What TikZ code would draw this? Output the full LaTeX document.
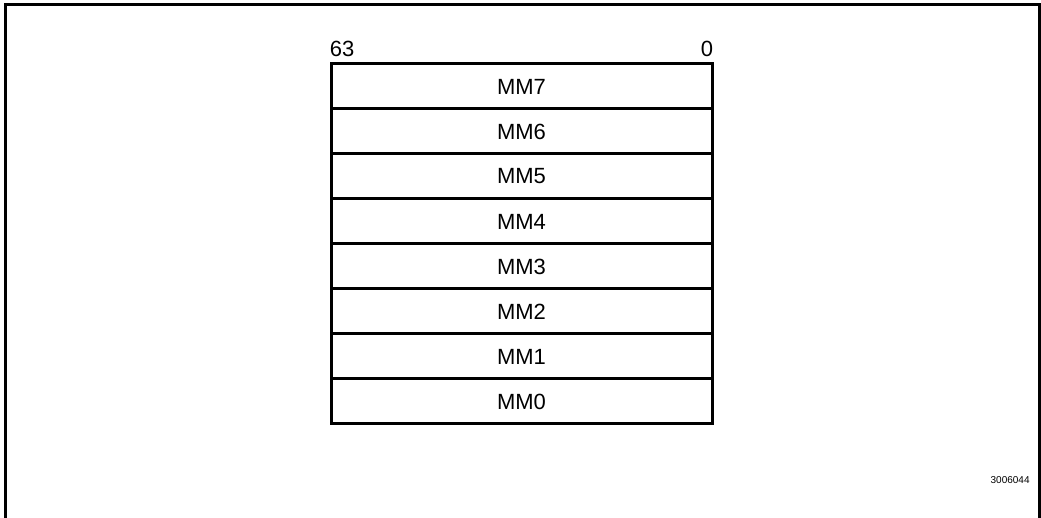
\documentclass[tikz,border=0pt]{standalone}
\usepackage{fontspec}
\setmainfont{Liberation Sans}
\usetikzlibrary{positioning}

\begin{document}
\begin{tikzpicture}[x=0.5pt,y=-0.5pt,
  reg/.style={draw,line width=1.5pt,minimum width=190.5pt,minimum height=22.5pt,inner sep=0pt,font=\fontsize{11}{13}\selectfont},
  bitno/.style={inner sep=0pt,font=\fontsize{11}{13}\selectfont}]
\useasboundingbox (0,0) rectangle (1041,518);
\draw[line width=1.5pt] (5,518)--(5,5)--(1039,5)--(1039,518);
\foreach \i/\r in {0/7,1/6,2/5,3/4,4/3,5/2,6/1,7/0}
 {\node[reg] (mm\r) at (521.5,{86.5+45*\i}) {MM\r};}
\node[bitno,above right=2.5pt and 0pt of mm7.north west] (msb) {63};
\node[bitno,above left=2.5pt and 0pt of mm7.north east] (lsb) {0};
\node[inner sep=0pt,font=\fontsize{5}{6}\selectfont,anchor=east] (fignum) at (1030,480) {3006044};
\end{tikzpicture}
\end{document}
